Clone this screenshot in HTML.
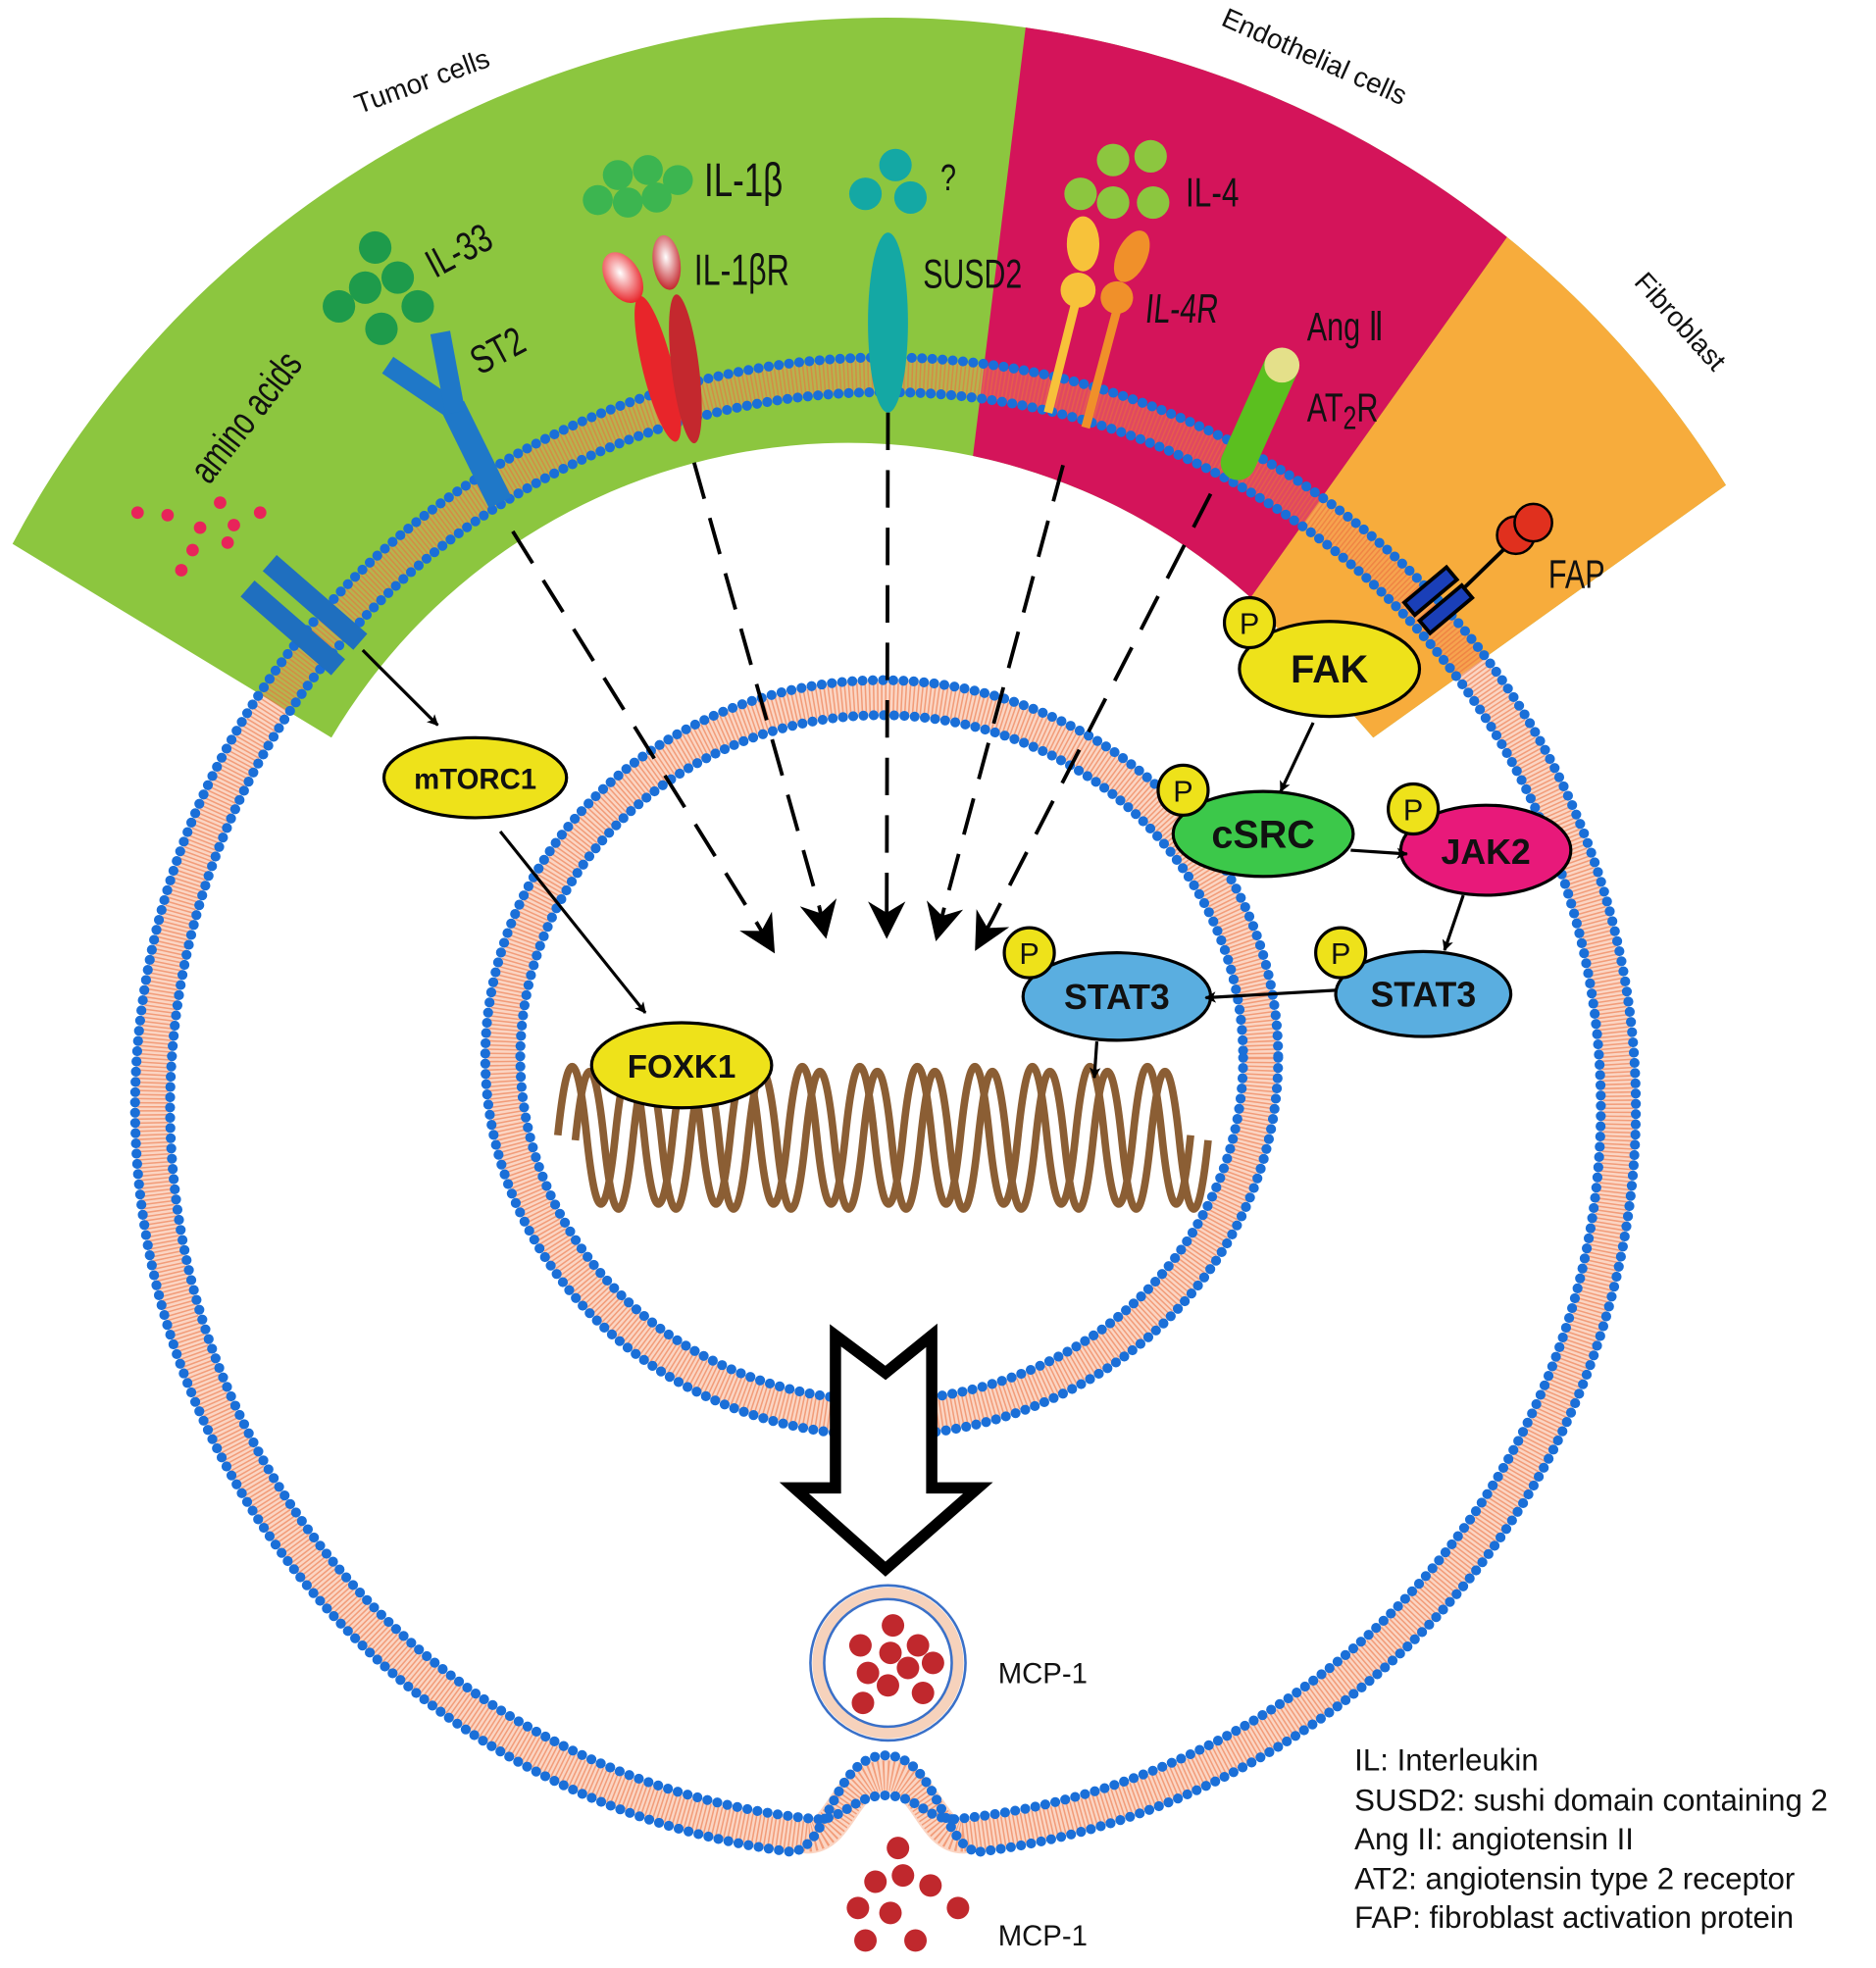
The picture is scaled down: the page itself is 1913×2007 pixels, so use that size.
<!DOCTYPE html>
<html><head><meta charset="utf-8"><style>
html,body{margin:0;padding:0;background:#fff}
svg{display:block}
.c{font-family:"Liberation Sans",sans-serif;fill:#111}
.b{font-family:"Liberation Sans",sans-serif;font-weight:bold;fill:#111;text-anchor:middle}
</style></head><body>
<svg width="1913" height="2007" viewBox="0 0 1500 1574" preserveAspectRatio="none" xmlns="http://www.w3.org/2000/svg">
<defs>
<clipPath id="band"><path d="M10 435 A790 790 0 0 1 1380 388 L1098 590 L1000 478 A480 480 0 0 0 265 590 Z"/></clipPath>
<marker id="ah" viewBox="0 0 20 20" refX="18" refY="10" markerWidth="9" markerHeight="9" markerUnits="userSpaceOnUse" orient="auto"><path d="M0 0 L20 10 L0 20 L5 10 Z" fill="#000"/></marker>
<marker id="ahb" viewBox="0 0 20 20" refX="18" refY="10" markerWidth="30" markerHeight="30" markerUnits="userSpaceOnUse" orient="auto"><path d="M0 0 L20 10 L0 20 L6 10 Z" fill="#000"/></marker>
<radialGradient id="hl" cx="0.5" cy="0.4" r="0.6"><stop offset="0" stop-color="#fff"/><stop offset="1" stop-color="#e8252a"/></radialGradient>
<radialGradient id="hl2" cx="0.5" cy="0.4" r="0.6"><stop offset="0" stop-color="#fff"/><stop offset="1" stop-color="#c4282e"/></radialGradient>
</defs>

<path d="M10 435 A790 790 0 0 1 1380 388 L1098 590 L1000 478 A480 480 0 0 0 265 590 Z" fill="#8cc63f"/>
<g clip-path="url(#band)">
<polygon points="824,-10 1347,-10 899,620 749,600" fill="#d4145a"/>
<polygon points="1347,-10 1520,-10 1520,700 899,620" fill="#f7ac3c"/>
</g>

<g fill="none">
<path d="M770 1469 A586 586 0 1 0 646 1469 C672 1469 676 1420 708 1420 C740 1420 744 1469 770 1469 Z" stroke="rgba(245,150,105,0.4)" stroke-width="27"/>
<path d="M770 1469 A586 586 0 1 0 646 1469 C672 1469 676 1420 708 1420 C740 1420 744 1469 770 1469 Z" stroke="rgba(235,110,60,0.55)" stroke-width="24" stroke-dasharray="1.2 2"/>
<path d="M784 1481 A600 600 0 1 0 632 1481 C662 1481 666 1404 708 1404 C750 1404 754 1481 784 1481" stroke="#1a6fd8" stroke-width="8" stroke-linecap="round" stroke-dasharray="0 8.2"/>
<path d="M763 1455 A572 572 0 1 0 653 1455 C676 1455 682 1436 708 1436 C734 1436 740 1455 763 1455" stroke="#1a6fd8" stroke-width="8" stroke-linecap="round" stroke-dasharray="0 8.2"/>
</g>

<g fill="none">
<ellipse cx="705" cy="846" rx="303" ry="288" stroke="rgba(245,150,105,0.4)" stroke-width="27"/>
<ellipse cx="705" cy="846" rx="303" ry="288" stroke="rgba(235,110,60,0.55)" stroke-width="24" stroke-dasharray="1.2 2"/>
<ellipse cx="705" cy="846" rx="317" ry="302" stroke="#1a6fd8" stroke-width="8" stroke-linecap="round" stroke-dasharray="0 8.2"/>
<ellipse cx="705" cy="846" rx="289" ry="274" stroke="#1a6fd8" stroke-width="8" stroke-linecap="round" stroke-dasharray="0 8.2"/>
</g>

<text class="c" font-size="22" transform="translate(340,72) rotate(-20)" text-anchor="middle">Tumor cells</text>
<text class="c" font-size="22" transform="translate(1048,52) rotate(24)" text-anchor="middle">Endothelial cells</text>
<text class="c" font-size="22" transform="translate(1338,262) rotate(48)" text-anchor="middle">Fibroblast</text>

<g fill="#e8245a">
<circle cx="110" cy="410" r="5"/><circle cx="134" cy="412" r="5"/><circle cx="176" cy="402" r="5"/><circle cx="208" cy="410" r="5"/>
<circle cx="160" cy="422" r="5"/><circle cx="187" cy="420" r="5"/><circle cx="182" cy="434" r="5"/><circle cx="154" cy="440" r="5"/><circle cx="145" cy="456" r="5"/>
</g>
<text class="c" font-size="32" transform="translate(205,340) rotate(-52) scale(0.72,1)" text-anchor="middle">amino acids</text>
<g transform="translate(243,492) rotate(-139)" fill="#1f6fbf">
<rect x="-48" y="-22" width="96" height="17"/><rect x="-48" y="5" width="96" height="17"/>
</g>

<g fill="#1e9b4b">
<circle cx="300" cy="198" r="13"/><circle cx="292" cy="230" r="13"/><circle cx="318" cy="222" r="13"/><circle cx="271" cy="245" r="13"/><circle cx="334" cy="245" r="13"/><circle cx="305" cy="263" r="13"/>
</g>
<text class="c" font-size="32" transform="translate(372,210) rotate(-28) scale(0.75,1)" text-anchor="middle">IL-33</text>
<text class="c" font-size="32" transform="translate(403,290) rotate(-28) scale(0.75,1)" text-anchor="middle">ST2</text>
<g stroke="#1f78c8" fill="none" stroke-linecap="butt">
<line x1="400" y1="402" x2="362" y2="325" stroke-width="20"/>
<line x1="366" y1="330" x2="310" y2="292" stroke-width="16"/>
<line x1="364" y1="330" x2="352" y2="266" stroke-width="16"/>
</g>

<g fill="#3cb550">
<circle cx="478" cy="160" r="12"/><circle cx="502" cy="162" r="12"/><circle cx="525" cy="158" r="12"/><circle cx="494" cy="140" r="12"/><circle cx="518" cy="136" r="12"/><circle cx="542" cy="144" r="12"/>
</g>
<text class="c" font-size="38" transform="translate(563,157) scale(0.72,1)">IL-1β</text>
<text class="c" font-size="35" transform="translate(555,228) scale(0.72,1)">IL-1βR</text>
<ellipse cx="526" cy="295" rx="12" ry="60" transform="rotate(-14 526 295)" fill="#e8252a"/>
<ellipse cx="498" cy="222" rx="14" ry="22" transform="rotate(-30 498 222)" fill="url(#hl)"/>
<ellipse cx="548" cy="295" rx="11" ry="60" transform="rotate(-7 548 295)" fill="#c4282e"/>
<ellipse cx="533" cy="210" rx="11" ry="22" transform="rotate(-8 533 210)" fill="url(#hl2)"/>

<g fill="#14a8a4"><circle cx="692" cy="155" r="13"/><circle cx="716" cy="132" r="13"/><circle cx="728" cy="158" r="13"/></g>
<text class="c" font-size="30" transform="translate(752,152) scale(0.75,1)">?</text>
<ellipse cx="710" cy="258" rx="16" ry="72" fill="#14a8a4"/>
<text class="c" font-size="33" transform="translate(738,230) scale(0.72,1)">SUSD2</text>

<g fill="#8cc63f">
<circle cx="864" cy="155" r="13"/><circle cx="890" cy="128" r="13"/><circle cx="920" cy="125" r="13"/><circle cx="890" cy="162" r="13"/><circle cx="922" cy="162" r="13"/>
</g>
<text class="c" font-size="33" transform="translate(948,165) scale(0.75,1)">IL-4</text>
<line x1="860" y1="242" x2="838" y2="330" stroke="#f7c23a" stroke-width="7"/>
<ellipse cx="866" cy="195" rx="13" ry="22" fill="#f7c23a"/>
<circle cx="862" cy="232" r="14" fill="#f7c23a"/>
<line x1="893" y1="248" x2="868" y2="342" stroke="#f0902a" stroke-width="7"/>
<ellipse cx="905" cy="205" rx="12" ry="22" transform="rotate(25 905 205)" fill="#f0902a"/>
<circle cx="893" cy="238" r="13" fill="#f0902a"/>
<text class="c" font-size="33" transform="translate(915,258) scale(0.72,1) skewX(-8)">IL-4R</text>

<text class="c" font-size="32" transform="translate(1045,272) scale(0.75,1)">Ang Ⅱ</text>
<text class="c" font-size="32" transform="translate(1045,337) scale(0.75,1)">AT<tspan font-size="26" dy="6">2</tspan><tspan dy="-6">R</tspan></text>
<line x1="1024" y1="294" x2="990" y2="370" stroke="#5bbf1f" stroke-width="28" stroke-linecap="round"/>
<circle cx="1025" cy="292" r="14" fill="#e4e08a"/>

<line x1="1140" y1="500" x2="1210" y2="432" stroke="#000" stroke-width="3"/>
<g transform="translate(1150,480) rotate(-40)" stroke="#000" stroke-width="3" fill="#1a3fb8">
<rect x="-22" y="-16" width="44" height="13"/><rect x="-22" y="3" width="44" height="13"/>
</g>
<circle cx="1212" cy="428" r="15" fill="#e0301e" stroke="#000" stroke-width="2"/>
<circle cx="1226" cy="418" r="15" fill="#e0301e" stroke="#000" stroke-width="2"/>
<text class="c" font-size="32" transform="translate(1238,470) scale(0.75,1)">FAP</text>

<g stroke="#000" stroke-width="3" stroke-dasharray="30 16" fill="none">
<line x1="410" y1="425" x2="605" y2="738"/>
<line x1="555" y1="370" x2="655" y2="725"/>
<line x1="710" y1="330" x2="709" y2="725"/>
<line x1="850" y1="372" x2="755" y2="726"/>
<line x1="968" y1="395" x2="793" y2="736"/>
</g>
<line x1="605" y1="738" x2="618" y2="760" stroke="#000" stroke-width="3" marker-end="url(#ahb)"/>
<line x1="655" y1="725" x2="660" y2="748" stroke="#000" stroke-width="3" marker-end="url(#ahb)"/>
<line x1="709" y1="725" x2="709" y2="748" stroke="#000" stroke-width="3" marker-end="url(#ahb)"/>
<line x1="755" y1="726" x2="749" y2="750" stroke="#000" stroke-width="3" marker-end="url(#ahb)"/>
<line x1="793" y1="736" x2="781" y2="758" stroke="#000" stroke-width="3" marker-end="url(#ahb)"/>

<g fill="none" stroke="#8b5e34" stroke-width="6">
<path d="M446 908 q11.5 -110 23 0 t23 0 t23 0 t23 0 t23 0 t23 0 t23 0 t23 0 t23 0 t23 0 t23 0 t23 0 t23 0 t23 0 t23 0 t23 0 t23 0 t23 0 t23 0 t23 0 t23 0 t23 0"/>
<path d="M460 912 q11.5 -110 23 0 t23 0 t23 0 t23 0 t23 0 t23 0 t23 0 t23 0 t23 0 t23 0 t23 0 t23 0 t23 0 t23 0 t23 0 t23 0 t23 0 t23 0 t23 0 t23 0 t23 0 t23 0"/>
</g>

<g stroke="#000" stroke-width="2.5">
<ellipse cx="380" cy="622" rx="73" ry="32" fill="#eee21a"/>
<ellipse cx="545" cy="852" rx="72" ry="34" fill="#eee21a"/>
<ellipse cx="1063" cy="535" rx="72" ry="38" fill="#eee21a"/>
<circle cx="999" cy="498" r="20" fill="#eee21a"/>
<ellipse cx="1010" cy="667" rx="72" ry="34" fill="#3cc84a"/>
<circle cx="946" cy="632" r="20" fill="#eee21a"/>
<ellipse cx="1188" cy="680" rx="68" ry="36" fill="#e8197a"/>
<circle cx="1130" cy="647" r="20" fill="#eee21a"/>
<ellipse cx="1138" cy="795" rx="70" ry="34" fill="#5aaee0"/>
<circle cx="1072" cy="762" r="20" fill="#eee21a"/>
<ellipse cx="893" cy="797" rx="75" ry="35" fill="#5aaee0"/>
<circle cx="823" cy="762" r="20" fill="#eee21a"/>
</g>
<g class="c" font-size="24" text-anchor="middle">
<text x="999" y="507">P</text><text x="946" y="641">P</text><text x="1130" y="656">P</text><text x="1072" y="771">P</text><text x="823" y="771">P</text>
</g>
<text class="b" x="380" y="631" font-size="23">mTORC1</text>
<text class="b" x="545" y="862" font-size="26">FOXK1</text>
<text class="b" x="1063" y="546" font-size="31">FAK</text>
<text class="b" x="1010" y="678" font-size="31">cSRC</text>
<text class="b" x="1188" y="691" font-size="28">JAK2</text>
<text class="b" x="1138" y="805" font-size="28">STAT3</text>
<text class="b" x="893" y="807" font-size="28">STAT3</text>

<g stroke="#000" stroke-width="2.5" fill="none">
<line x1="290" y1="520" x2="350" y2="580" marker-end="url(#ah)"/>
<line x1="400" y1="665" x2="516" y2="810" marker-end="url(#ah)"/>
<line x1="1050" y1="578" x2="1024" y2="633" marker-end="url(#ah)"/>
<line x1="1080" y1="680" x2="1125" y2="683" marker-end="url(#ah)"/>
<line x1="1170" y1="716" x2="1155" y2="760" marker-end="url(#ah)"/>
<line x1="1068" y1="792" x2="964" y2="798" marker-end="url(#ah)"/>
<line x1="877" y1="833" x2="875" y2="862" marker-end="url(#ah)"/>
</g>

<polygon points="668,1068 708,1098 745,1068 745,1190 782,1190 708,1255 635,1190 668,1190" fill="#fff" stroke="#000" stroke-width="9" stroke-linejoin="miter"/>

<circle cx="710" cy="1330" r="62" fill="#fff" stroke="#3a70c8" stroke-width="2"/>
<circle cx="710" cy="1330" r="56" fill="none" stroke="#f6d2bc" stroke-width="9"/>
<circle cx="710" cy="1330" r="51" fill="#fff" stroke="#3a70c8" stroke-width="2"/>
<g fill="#c0282d">
<circle cx="714" cy="1300" r="9"/><circle cx="688" cy="1316" r="9"/><circle cx="712" cy="1322" r="9"/><circle cx="734" cy="1316" r="9"/><circle cx="746" cy="1330" r="9"/>
<circle cx="726" cy="1334" r="9"/><circle cx="694" cy="1338" r="9"/><circle cx="710" cy="1348" r="9"/><circle cx="690" cy="1362" r="9"/><circle cx="738" cy="1354" r="9"/>
<circle cx="718" cy="1478" r="9"/><circle cx="722" cy="1500" r="9"/><circle cx="700" cy="1505" r="9"/><circle cx="744" cy="1508" r="9"/>
<circle cx="686" cy="1526" r="9"/><circle cx="712" cy="1530" r="9"/><circle cx="766" cy="1526" r="9"/><circle cx="692" cy="1552" r="9"/><circle cx="732" cy="1552" r="9"/>
</g>
<text class="c" x="798" y="1346" font-size="23">MCP-1</text>
<text class="c" x="798" y="1556" font-size="23">MCP-1</text>

<g class="c" font-size="24.5">
<text x="1083" y="1416">IL: Interleukin</text>
<text x="1083" y="1448">SUSD2: sushi domain containing 2</text>
<text x="1083" y="1479">Ang II: angiotensin II</text>
<text x="1083" y="1511">AT2: angiotensin type 2 receptor</text>
<text x="1083" y="1542">FAP: fibroblast activation protein</text>
</g>
</svg>
</body></html>
